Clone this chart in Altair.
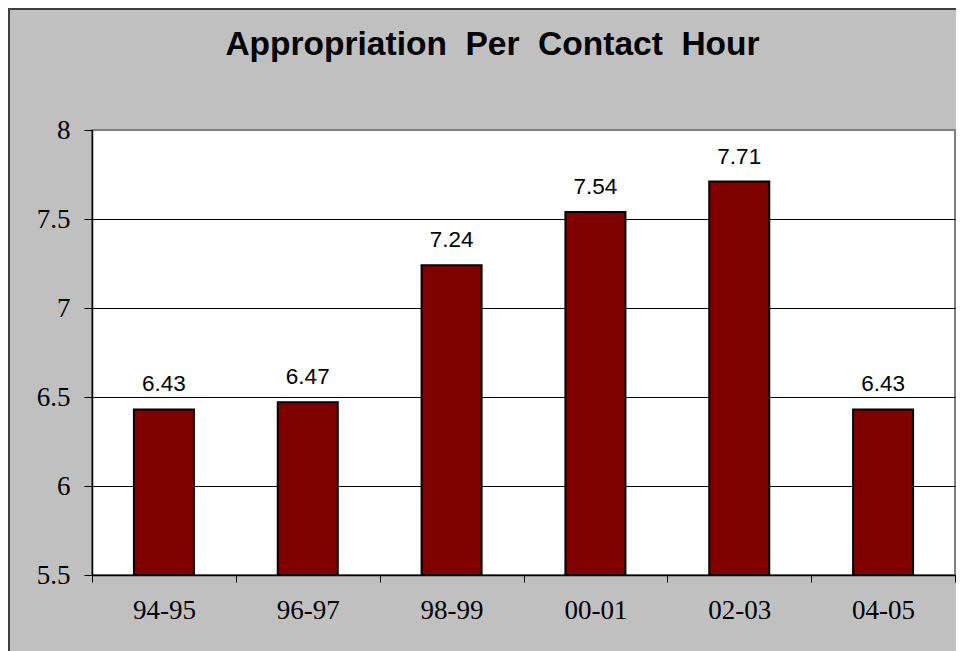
import altair as alt
import pandas as pd

years = ["94-95", "96-97", "98-99", "00-01", "02-03", "04-05"]
values = [6.43, 6.47, 7.24, 7.54, 7.71, 6.43]
y_ticks = [5.5, 6, 6.5, 7, 7.5, 8]
y_min, y_max = 5.5, 8

df = pd.DataFrame({"year": years, "value": values})

W, H = 863, 445

x_enc = alt.X(
    "year:N",
    sort=years,
    title=None,
    scale=alt.Scale(paddingInner=0, paddingOuter=0),
    axis=alt.Axis(
        tickBand="extent",
        ticks=True,
        tickSize=7,
        tickColor="black",
        tickWidth=1,
        domainColor="black",
        domainWidth=1.5,
        labelFont="Liberation Serif",
        labelFontSize=27,
        labelColor="black",
        labelPadding=15,
        labelAngle=0,
        grid=False,
    ),
)

y_enc = alt.Y(
    "value:Q",
    title=None,
    scale=alt.Scale(domain=[y_min, y_max], nice=False, zero=False),
    axis=alt.Axis(
        values=y_ticks,
        format="~g",
        tickSize=8,
        tickColor="black",
        tickWidth=1,
        domainColor="black",
        domainWidth=1.5,
        labelFont="Liberation Serif",
        labelFontSize=27,
        labelColor="black",
        labelPadding=14,
        grid=True,
        gridColor=alt.condition("datum.value == 8", alt.value("#808080"), alt.value("black")),
        gridWidth=1,
    ),
)

bars = alt.Chart(df).mark_bar(
    size=60, color="#800000", stroke="black", strokeWidth=2
).encode(x=x_enc, y=y_enc, y2=alt.datum(y_min))

labels = alt.Chart(df).mark_text(
    dy=-18, baseline="alphabetic", font="Liberation Sans", fontSize=22.5, color="black"
).encode(x=x_enc, y=y_enc, text=alt.Text("value:Q", format=".2f"))

frame = alt.Chart(pd.DataFrame({"a": [0]})).mark_rect(
    fillOpacity=0, stroke="#404040", strokeWidth=2, clip=False
).encode(
    x=alt.value(-83), x2=alt.value(W + 60), y=alt.value(-121), y2=alt.value(H + 140)
)

chart = alt.layer(frame, bars, labels).properties(
    width=W,
    height=H,
    padding={"left": 84, "top": 122, "right": 1, "bottom": 76},
    autosize=alt.AutoSizeParams(type="none"),
    background="#C0C0C0",
    title=alt.Title(
        "Appropriation\u00a0 Per\u00a0 Contact\u00a0 Hour",
        font="Liberation Sans",
        fontSize=33.5,
        fontWeight="bold",
        color="black",
        anchor="middle",
        dx=-31,
        offset=-80,
        baseline="alphabetic",
    ),
).configure_view(stroke="#808080", strokeWidth=2, fill="white")

chart.save("out.html", embed_options={"renderer": "svg", "actions": False})
